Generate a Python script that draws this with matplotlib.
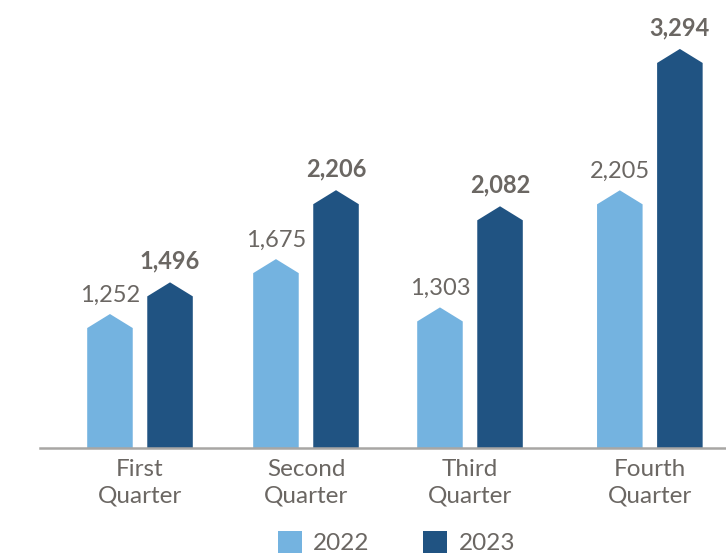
import matplotlib.pyplot as plt
from matplotlib.patches import Polygon, Patch

# data
quarters = ['First\nQuarter', 'Second\nQuarter', 'Third\nQuarter', 'Fourth\nQuarter']
vals_2022 = [1252, 1675, 1303, 2205]
vals_2023 = [1496, 2206, 2082, 3294]
years = ['2022', '2023']

# layout / style
group_x = [0, 1.006, 2.0, 3.09]
bar_w = 0.276
offset = 0.182
tip = 108
y_floor = 220
col_light = '#74b3e0'
col_dark = '#205382'
txt_col = '#6b6763'

plt.rcParams['font.family'] = ['Lato', 'DejaVu Sans']

fig = plt.figure(figsize=(7.26, 5.56), dpi=100)
ax = fig.add_axes([40 / 726, 108 / 556, 686 / 726, 448 / 556])


def arrow_bar(ax, xc, v, color):
    x0, x1 = xc - bar_w / 2, xc + bar_w / 2
    pts = [(x0, y_floor), (x0, v - tip), (xc, v), (x1, v - tip), (x1, y_floor)]
    ax.add_patch(Polygon(pts, closed=True, facecolor=color, edgecolor='none'))


for i, g in enumerate(group_x):
    arrow_bar(ax, g - offset, vals_2022[i], col_light)
    arrow_bar(ax, g + offset, vals_2023[i], col_dark)
    ax.annotate(f'{vals_2022[i]:,}', (g - offset, vals_2022[i]), xytext=(0, 9),
                textcoords='offset points', ha='center', va='baseline',
                fontsize=17, color=txt_col)
    ax.annotate(f'{vals_2023[i]:,}', (g + offset, vals_2023[i]), xytext=(0, 10),
                textcoords='offset points', ha='center', va='baseline',
                fontsize=17, color=txt_col, fontweight='bold')

ax.set_xlim(-100 / 165, 586 / 165)
ax.set_ylim(y_floor, 3671)
ax.set_xticks(group_x)
ax.set_xticklabels(quarters, fontsize=17.5, color=txt_col, linespacing=1.3)
ax.tick_params(axis='x', length=0, pad=8)
ax.set_yticks([])
for s in ['top', 'left', 'right']:
    ax.spines[s].set_visible(False)
ax.spines['bottom'].set_color('#a8a6a4')
ax.spines['bottom'].set_linewidth(1.8)
ax.patch.set_alpha(0)

handles = [Patch(facecolor=col_light, label=years[0]),
           Patch(facecolor=col_dark, label=years[1])]
leg = fig.legend(handles=handles, loc='lower center', bbox_to_anchor=(0.546, -0.036),
                 ncol=2, frameon=False, fontsize=17.5, handlelength=1.0, handleheight=1.0,
                 handletextpad=0.45, columnspacing=2.2)
for t in leg.get_texts():
    t.set_color(txt_col)

fig.savefig('out.png', dpi=100)
